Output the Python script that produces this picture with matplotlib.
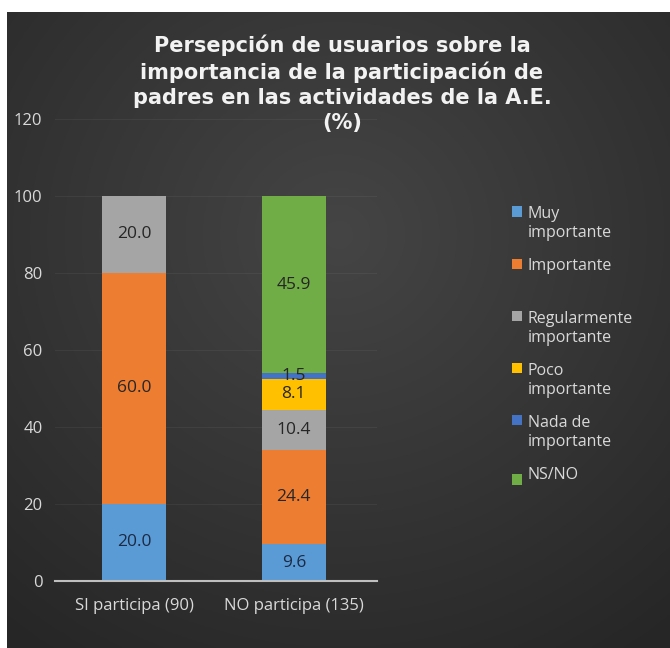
import numpy as np
import matplotlib
matplotlib.use('Agg')
import matplotlib.pyplot as plt

CATEGORIES = ['SI participa (90)', 'NO participa (135)']
SERIES = ['Muy\nimportante', 'Importante\n', 'Regularmente\nimportante',
          'Poco\nimportante', 'Nada de\nimportante', 'NS/NO']
VALUES = [
    [20.0, 9.6],   # Muy importante
    [60.0, 24.4],  # Importante
    [20.0, 10.4],  # Regularmente importante
    [0.0, 8.1],    # Poco importante
    [0.0, 1.5],    # Nada de importante
    [0.0, 45.9],   # NS/NO
]
COLORS = ['#5b9bd5', '#ed7d31', '#a5a5a5', '#ffc000', '#4472c4', '#70ad47']
LABEL_COLORS = ['#1b2a45', '#262626', '#262626', '#262626', '#262626', '#262626']
TITLE = ('Persepción de usuarios sobre la\nimportancia de la participación de\n'
         'padres en las actividades de la A.E.\n(%)')
YTICKS = [0, 20, 40, 60, 80, 100, 120]

FONT = 'Open Sans'
TXT = '#d9d9d9'


def main():
    fig = plt.figure(figsize=(6.7, 6.48), dpi=100, facecolor='white')

    # dark panel with a soft radial gradient
    bg = fig.add_axes([7 / 670, 0, 1 - 7 / 670, 636 / 648], zorder=-10)
    yy, xx = np.mgrid[0:1:300j, 0:1:300j]
    r = np.sqrt(((xx - 0.5) / 0.8) ** 2 + ((yy - 0.35) / 0.8) ** 2)
    shade = 0.27 - 0.12 * np.clip(r, 0, 1)
    bg.imshow(np.dstack([shade] * 3), extent=[0, 1, 0, 1], aspect='auto', origin='upper')
    bg.set_axis_off()

    ax = fig.add_axes([55 / 670, 67 / 648, 322 / 670, 462 / 648])
    ax.patch.set_visible(False)
    x = np.arange(len(CATEGORIES))
    bottoms = np.zeros(len(CATEGORIES))
    handles = []
    for vals, color, lc in zip(VALUES, COLORS, LABEL_COLORS):
        vals = np.array(vals)
        bars = ax.bar(x, vals, 0.4, bottom=bottoms, color=color, zorder=3)
        handles.append(bars)
        for xi, v, b in zip(x, vals, bottoms):
            if v > 0:
                ax.text(xi, b + v / 2, f'{v:.1f}', ha='center', va='center',
                        fontsize=12.5, color=lc, family=FONT, zorder=4)
        bottoms += vals

    ax.set_xlim(-0.494, 1.52)
    ax.set_ylim(0, 120)
    ax.set_yticks(YTICKS)
    ax.set_xticks(x)
    ax.set_xticklabels(CATEGORIES)
    ax.tick_params(axis='y', length=0, pad=9, labelsize=12, labelcolor=TXT)
    ax.tick_params(axis='x', length=0, pad=12, labelsize=12, labelcolor=TXT)
    for lab in ax.get_xticklabels() + ax.get_yticklabels():
        lab.set_family(FONT)
    for s in ['top', 'right', 'left']:
        ax.spines[s].set_visible(False)
    ax.spines['bottom'].set_color('#bfbfbf')
    ax.spines['bottom'].set_linewidth(1.5)
    ax.spines['bottom'].set_zorder(5)
    ax.yaxis.grid(True, color='white', alpha=0.05, linewidth=0.8, zorder=0)

    fig.text(342 / 670, 1 - 34 / 648, TITLE, ha='center', va='top', fontsize=15,
             fontweight='bold', color='#f2f2f2', family='DejaVu Sans', linespacing=1.33)

    leg = fig.legend(handles, SERIES, loc='upper left',
                     bbox_to_anchor=(498 / 670, 1 - 192 / 648), frameon=False,
                     handlelength=0.6, handleheight=0.6, handletextpad=0.35,
                     labelspacing=1.07, prop={'family': FONT, 'size': 11.5})
    for t in leg.get_texts():
        t.set_color(TXT)
        t.set_linespacing(1.25)

    # move the colour squares up to the first line of two-line labels
    fig.canvas.draw()
    r = fig.canvas.get_renderer()
    texts = leg.get_texts()
    h_one = texts[-1].get_window_extent(r).height
    for t, h in zip(texts, leg.legend_handles):
        if '\n' in t.get_text():
            dy = (t.get_window_extent(r).height - h_one) * 72 / fig.dpi
            h.set_y(h.get_y() + dy - 4.5)
        else:
            h.set_y(h.get_y() - 4.5)

    fig.savefig('out.png', dpi=100, facecolor='white')


if __name__ == '__main__':
    main()
